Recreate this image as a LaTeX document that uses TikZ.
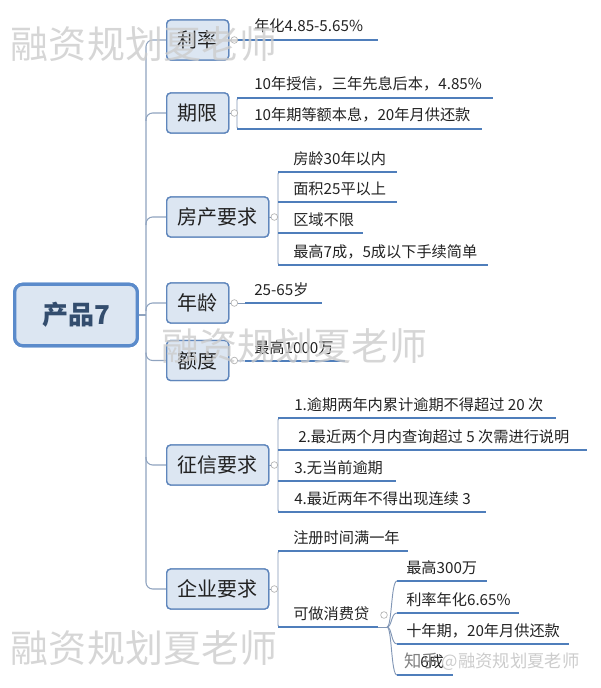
\documentclass[tikz,border=0pt]{standalone}
\usepackage{fontspec}
\setmainfont{Noto Sans CJK SC}
\definecolor{trunkC}{HTML}{8FA3BF}
\definecolor{brC}{HTML}{8297B6}
\definecolor{ulC}{HTML}{4F7EBB}
\definecolor{boxF}{HTML}{DCE6F2}
\definecolor{boxD}{HTML}{5F86BC}
\definecolor{rootD}{HTML}{5B8BCB}
\definecolor{rootT}{HTML}{334D6E}
\definecolor{txt}{HTML}{222222}
\definecolor{wmC}{HTML}{CCCCCC}
\newcommand\mkleaf[6]{%
  \draw[ul] (#4,#3) -- (#5,#3);
  \node[leaf] (#1) at (#2,#3-8) {#6};}
\begin{document}
\begin{tikzpicture}[x=0.75pt,y=-0.75pt,
  root/.style={draw=rootD, line width=2.4pt, fill=boxF, rounded corners=6pt,
    minimum width=92pt, minimum height=46pt, inner sep=0,
    font=\fontsize{19.5}{20}\selectfont\bfseries, text=rootT},
  topic/.style={draw=boxD, line width=1pt, fill=boxF, rounded corners=3pt,
    minimum height=30pt, inner sep=0, anchor=west,
    font=\fontsize{15}{15}\selectfont, text=txt},
  two/.style={minimum width=46.5pt},
  four/.style={minimum width=76.5pt},
  leaf/.style={anchor=base west, inner sep=0, font=\fontsize{11.4}{12}\selectfont, text=txt},
  ul/.style={draw=ulC, line width=1.5pt},
  br/.style={draw=brC, line width=0.7pt},
  trunk/.style={draw=trunkC, line width=0.8pt, rounded corners=5pt},
  dot/.style={circle, draw=gray!60, fill=white, line width=0.5pt, minimum size=5pt, inner sep=0},
  wm/.style={text=wmC, opacity=0.8, inner sep=0, font=\fontsize{28.5}{30}\selectfont}]
\useasboundingbox (0,0) rectangle (600,688);
\coordinate (trk) at (146,315);
% level-1 topics (placed first for anchors)
\node[root] (r) at (76,315) {产品7};
\node[topic,two] (t1) at (166,40) {利率};
\node[topic,two] (t2) at (166,113) {期限};
\node[topic,four] (t3) at (166,217) {房产要求};
\node[topic,two] (t4) at (166,303) {年龄};
\node[topic,two] (t5) at (166,360.5) {额度};
\node[topic,four] (t6) at (166,465) {征信要求};
\node[topic,four] (t7) at (166,589) {企业要求};
% trunk
\draw[trunk] (t1.west) -| (trk) |- (t7.west);
\draw[trunk] (r.east) -- (trk);
\draw[trunk] ([yshift=-6pt]t2.west -| trk) |- (t2.west);
\draw[trunk] ([yshift=-6pt]t3.west -| trk) |- (t3.west);
\draw[trunk] ([yshift=-6pt]t4.west -| trk) |- (t4.west);
\draw[trunk] ([yshift=6pt]t5.west -| trk) |- (t5.west);
\draw[trunk] ([yshift=6pt]t6.west -| trk) |- (t6.west);
% redraw topics above trunk
\node[topic,two] at (166,40) {利率};
\node[topic,two] at (166,113) {期限};
\node[topic,four] at (166,217) {房产要求};
\node[topic,two] at (166,303) {年龄};
\node[topic,two] at (166,360.5) {额度};
\node[topic,four] at (166,465) {征信要求};
\node[topic,four] at (166,589) {企业要求};
\node[root] at (76,315) {产品7};
% brackets
\draw[br] (t1.east) -- (236,40);
\draw[br] (t2.east) -- (237,113);
\draw[br, rounded corners=1.5pt] (242,98) -- (237,98) -- (237,129) -- (242,129);
\draw[br] (t3.east) -- (278,217);
\draw[br, rounded corners=1.5pt] (283,172) -- (278,172) -- (278,265) -- (283,265);
\draw[br] (t4.east) -- (245,303);
\draw[br] (t5.east) -- (245,361);
\draw[br] (t6.east) -- (278,465);
\draw[br, rounded corners=1.5pt] (283,418) -- (278,418) -- (278,512) -- (283,512);
\draw[br] (t7.east) -- (278,589);
\draw[br, rounded corners=1.5pt] (283,551) -- (278,551) -- (278,627) -- (283,627);
% leaves
\mkleaf{a1}{254}{40}{236}{378}{年化4.85-5.65\%}
\mkleaf{b1}{254}{98}{237}{493}{10年授信，三年先息后本，4.85\%}
\mkleaf{b2}{254}{129}{237}{482}{10年期等额本息，20年月供还款}
\mkleaf{c1}{293}{172}{278}{397}{房龄30年以内}
\mkleaf{c2}{293}{202}{278}{397}{面积25平以上}
\mkleaf{c3}{293}{233}{278}{363}{区域不限}
\mkleaf{c4}{293}{265}{278}{488}{最高7成，5成以下手续简单}
\mkleaf{d1}{254}{303}{245}{322}{25-65岁}
\mkleaf{e1}{254}{361}{245}{345}{最高1000万}
\mkleaf{f1}{294}{418}{278}{556}{1.逾期两年内累计逾期不得超过 20 次}
\mkleaf{f2}{298}{450}{278}{587}{2.最近两个月内查询超过 5 次需进行说明}
\mkleaf{f3}{294}{481}{278}{396}{3.无当前逾期}
\mkleaf{f4}{294}{512}{278}{486}{4.最近两年不得出现连续 3}
\mkleaf{g1}{293}{551}{278}{408}{注册时间满一年}
\mkleaf{g2}{293}{627}{278}{378}{可做消费贷}
% level-3 under 可做消费贷
\coordinate (gh) at (387,627);
\draw[br] (378,627) -- (gh);
\foreach \yy in {581,613,644,675}{
  \draw[br] (gh) .. controls (392,627) and (391,\yy) .. (397,\yy);
}
\mkleaf{h1}{406}{581}{397}{487}{最高300万}
\mkleaf{h2}{406}{613}{397}{519}{利率年化6.65\%}
\mkleaf{h3}{406}{644}{397}{569}{十年期，20年月供还款}
\mkleaf{h4}{420}{675}{397}{453}{6成}
% collapse dots
\node[dot] at ([xshift=3.75pt]t1.east) {};
\node[dot] at ([xshift=3.75pt]t2.east) {};
\node[dot] at ([xshift=3.75pt]t3.east) {};
\node[dot] at ([xshift=3.75pt]t4.east) {};
\node[dot] at ([xshift=3.75pt]t5.east) {};
\node[dot] at ([xshift=3.75pt]t6.east) {};
\node[dot] at ([xshift=3.75pt]t7.east) {};
\node[dot] at (384,615) {};
% watermarks
\node[wm] (w1) at (144,44) {融资规划夏老师};
\node[wm] (w2) at (294,346) {融资规划夏老师};
\node[wm] (w3) at (144,648) {融资规划夏老师};
\node[anchor=west, inner sep=0, font=\fontsize{13}{13}\selectfont] (w4) at (404,662)
  {\textcolor{gray}{知乎}\,\textcolor{wmC}{@融资规划夏老师}};
\end{tikzpicture}
\end{document}
